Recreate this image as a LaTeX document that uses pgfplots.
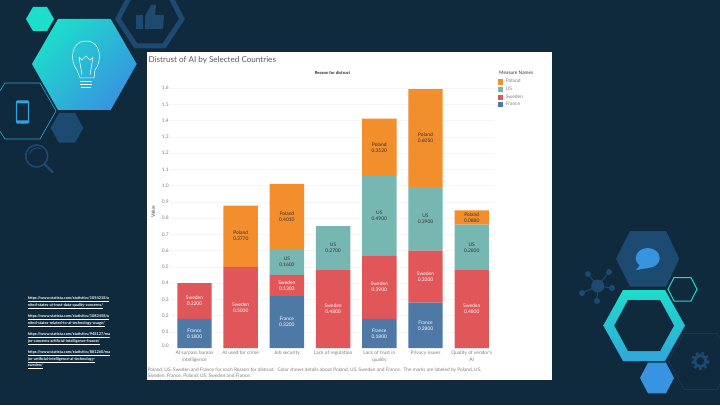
\documentclass[border=0pt]{standalone}
\usepackage{pgfplots}
\usepackage{pgfplotstable}
\usepackage{fontspec}
\setmainfont{Lato}
\pgfplotsset{compat=1.18}

\definecolor{bg}{HTML}{0F293D}
\definecolor{hexdark}{HTML}{1D4A70}
\definecolor{aqua}{HTML}{1DDDCB}
\definecolor{sky}{HTML}{3794E0}
\definecolor{polandc}{HTML}{F28E2B}
\definecolor{usc}{HTML}{76B7B2}
\definecolor{swedenc}{HTML}{E15759}
\definecolor{francec}{HTML}{4E79A7}
\definecolor{greytxt}{HTML}{7F7F7F}

\newcommand{\smallf}{\fontsize{4.9}{6}\selectfont}
\newcommand{\tickf}{\fontsize{4.9}{6.6}\selectfont}

\pgfplotstableread{
x France Sweden US   Poland
0 0.18   0.22   0    0
1 0      0.50   0    0.377
2 0.32   0.13   0.16 0.401
3 0      0.48   0.27 0
4 0.18   0.39   0.49 0.352
5 0.28   0.32   0.39 0.605
6 0      0.48   0.28 0.088
}\bars

\pgfplotsset{
  frame/.style={
    scale only axis, width=325pt, height=259.8pt,
    at={(170pt,57pt)}, anchor=south west,
    xmin=-0.53, xmax=6.504, ymin=0, ymax=1.6,
  },
  seglabel/.style={
    only marks, mark=none, point meta=explicit symbolic,
    text=#1, forget plot,
  },
}

\begin{document}
\begin{tikzpicture}
\useasboundingbox (0,0) rectangle (720pt,405pt);
\clip (0,0) rectangle (720pt,405pt);
\fill[bg] (0,0) rectangle (720pt,405pt);

% slide decoration, in pixel coordinates of the reference
\begin{scope}[x=1pt,y=-1pt,shift={(0pt,405pt)}]
  % left group
  \draw[hexdark,line width=5pt] (118,19)--(134,-12)--(166,-12)--(182,19)--(164,46)--(136,46)--cycle;
  \fill[hexdark] (136,15) rectangle (143,29);
  \fill[hexdark] (145,16)--(151,5)--(156,5)--(155,15)--(164,15)--(163,29)--(145,29)--cycle;
  \fill[aqua] (26,19)--(33,7)--(47,7)--(54,19)--(47,31)--(33,31)--cycle;
  \shade[top color=aqua,middle color=aqua!85!sky,bottom color=sky,shading angle=45] (32,64)--(58,19)--(110.7,19)--(136.7,64)--(110.7,110)--(58,110)--cycle;
  \draw[white,line width=.5pt] (77,70) .. controls (70,62) and (70,41) .. (86,41) .. controls (102,41) and (102,62) .. (95,70) -- (94,78) -- (80,78) -- cycle;
  \draw[white,line width=.5pt] (79,57)--(82,75) (93,57)--(90,75) (79,57)--(82,60)--(86,56)--(90,60)--(93,57);
  \draw[white,line width=.5pt] (80,81)--(92,81) (80,84)--(92,84) (81,87)--(91,87);
  \draw[sky!70!aqua,line width=.6pt] (-13,111)--(5,83)--(40,83)--(56,111)--(40,139)--(5,139)--cycle;
  \draw[sky!80!aqua,line width=1.3pt,rounded corners=1pt] (16.5,101) rectangle (28.5,123);
  \fill[sky!80!aqua] (16.5,101) rectangle (28.5,103.5) (16.5,120.5) rectangle (28.5,123);
  \fill[hexdark] (50.7,128)--(59,113)--(75,113)--(83.3,128)--(75,142.7)--(59,142.7)--cycle;
  \draw[hexdark,line width=1.6pt] (36.7,156) circle (11);
  \draw[hexdark,line width=1pt] (36.7,156) ++(-7,-2) arc (190:300:7.5);
  \draw[hexdark,line width=2.4pt,line cap=round] (44.5,164)--(52.5,172);
  % right group
  \fill[hexdark] (616,258.8)--(630,231)--(666,231)--(679.3,258.8)--(666,286.7)--(630,286.7)--cycle;
  \fill[sky] (647.7,258) ellipse (12 and 10);
  \fill[sky] (640,265)--(636,270)--(648,268)--cycle;
  \draw[hexdark,line width=1pt] (597.7,286)--(588,274) (597.7,286)--(609,272) (597.7,286)--(612,288) (597.7,286)--(582,293) (597.7,286)--(597,301);
  \fill[hexdark] (597.7,286) circle (6.5) (588,274) circle (3) (609,272) circle (3) (612,288) circle (3) (582,293) circle (3) (597,301) circle (3);
  \draw[aqua,line width=1pt] (668,289.2)--(674,277.5)--(691,277.5)--(697,289.2)--(691,301)--(674,301)--cycle;
  \shade[top color=aqua,bottom color=sky!75!aqua] (603.3,325.5)--(623,290)--(665,290)--(685,325.5)--(665,361)--(623,361)--cycle;
  \fill[bg] (614.3,325.5)--(628,300)--(660,300)--(674,325.5)--(660,351)--(628,351)--cycle;
  \fill[sky] (640,378)--(648,362.7)--(666,362.7)--(674,378)--(666,393.3)--(648,393.3)--cycle;
  \draw[hexdark!75!bg,line width=.4pt] (668.3,361)--(684,333.3)--(717,333.3)--(733,361)--(717,389.3)--(684,389.3)--cycle;
  \draw[hexdark,line width=3pt] (700.3,361) circle (5.6);
  \draw[hexdark,line width=2.4pt,dash pattern=on 2.6pt off 2.9pt] (700.3,361) circle (8);
  % sources
  \begin{scope}[every node/.style={anchor=west,inner sep=0pt,text=white,font=\bfseries\fontsize{3.85}{6}\selectfont}]
    \node at (27.7,299.5) {\underline{https://www.statista.com/statistics/1054218/u}};
    \node at (27.7,306) {\underline{nited-states-ai-trust-data-quality-concerns/}};
    \node at (27.7,317.5) {\underline{https://www.statista.com/statistics/1082458/u}};
    \node at (27.7,324) {\underline{nited-states-related-to-ai-technology-usage/}};
    \node at (27.7,335.5) {\underline{https://www.statista.com/statistics/948127/ma}};
    \node at (27.7,342) {\underline{jor-concerns-artificial-intelligence-france/}};
    \node at (27.7,353.5) {\underline{https://www.statista.com/statistics/881260/ma}};
    \node at (27.7,360) {\underline{jor-artificial-intelligence-ai-technology-}};
    \node at (27.7,366.5) {\underline{sweden/}};
  \end{scope}
  % worksheet panel
  \fill[white] (146.7,52) rectangle (552,380);
  \node[anchor=west,inner sep=0pt,text=black!65,font=\fontsize{8.1}{10}\selectfont] at (148.5,60) {Distrust of AI by Selected Countries};
  \node[inner sep=0pt,text=black!85,font=\bfseries\fontsize{4.2}{5}\selectfont] at (332.5,72.7) {Reason for distrust};
  \node[anchor=west,inner sep=0pt,text=black!80,font=\fontsize{4.8}{5}\selectfont] at (499,72.7) {Measure Names};
  \node[inner sep=0pt,rotate=90,text=black!75,font=\smallf] at (153,212) {Value};
  \node[anchor=west,inner sep=0pt,text=greytxt,font=\fontsize{4.83}{6}\selectfont] at (147.5,370) {Poland, US, Sweden and France for each Reason for distrust.\ \ Color shows details about Poland, US, Sweden and France.\ \ The marks are labeled by Poland, US,};
  \node[anchor=west,inner sep=0pt,text=greytxt,font=\fontsize{4.83}{6}\selectfont] at (147.5,376.5) {Sweden, France, Poland, US, Sweden and France.};
\end{scope}

\begin{axis}[
  frame,
  ybar stacked,
  bar width=34.4pt,
  axis line style={draw=none},
  major tick length=0pt,
  ymajorgrids,
  grid style={draw=black!4,line width=.4pt},
  ytick={0.1,0.2,0.3,0.4,0.5,0.6,0.7,0.8,0.9,1.0,1.1,1.2,1.3,1.4,1.5,1.6},
  extra y ticks={0},
  extra y tick labels={0.0},
  extra y tick style={ymajorgrids=false,yticklabel style={yshift=2.7pt}},
  yticklabel style={
    /pgf/number format/fixed,/pgf/number format/precision=1,/pgf/number format/fixed zerofill,
    /pgf/number format/assume math mode=true,
    font=\smallf,text=greytxt,inner sep=1pt,
  },
  xtick={0,1,2,3,4,5,6},
  xticklabels={{AI surpass human\\intelligence},{AI used for crime},{Job security},{Lack of regulation},{Lack of trust in\\quality},{Privacy issues},{Quality of vendor's\\AI}},
  xticklabel style={font=\tickf,text=greytxt,align=center,inner sep=1pt,yshift=-2pt},
  reverse legend,
  legend image code/.code={\fill[#1] (0pt,-2.6pt) rectangle (5.2pt,2.6pt);\path (7.6pt,0pt);},
  legend style={
    at={(axis description cs:1.0095,1.0365)},anchor=north west,
    draw=none,fill=none,inner sep=0pt,font=\smallf,text=greytxt,
    row sep=1.6pt,nodes={inner sep=0pt,anchor=west,minimum height=6pt},
  },
]
\addplot[fill=francec,draw=none] table[x=x,y=France] {\bars};
\addplot[fill=swedenc,draw=none] table[x=x,y=Sweden] {\bars};
\addplot[fill=usc,draw=none] table[x=x,y=US] {\bars};
\addplot[fill=polandc,draw=none] table[x=x,y=Poland] {\bars};
\legend{France,Sweden,US,Poland}
\end{axis}

% segment labels sit at the middle of each stacked part
\begin{axis}[
  frame,
  hide axis,
  clip=false,
  every node near coord/.append style={anchor=center,align=center,font=\smallf,inner sep=0pt},
]
\addplot[seglabel=white,nodes near coords={France\\\pgfplotspointmeta}] coordinates {
  (0,0.09) [0.1800] (2,0.16) [0.3200] (4,0.09) [0.1800] (5,0.14) [0.2800]};
\addplot[seglabel=white,nodes near coords={Sweden\\\pgfplotspointmeta}] coordinates {
  (0,0.29) [0.2200] (1,0.25) [0.5000] (2,0.385) [0.1300] (3,0.24) [0.4800]
  (4,0.375) [0.3900] (5,0.44) [0.3200] (6,0.24) [0.4800]};
\addplot[seglabel=black!80,nodes near coords={US\\\pgfplotspointmeta}] coordinates {
  (2,0.53) [0.1600] (3,0.615) [0.2700] (4,0.815) [0.4900] (5,0.795) [0.3900] (6,0.62) [0.2800]};
\addplot[seglabel=black!80,nodes near coords={Poland\\\pgfplotspointmeta}] coordinates {
  (1,0.6885) [0.3770] (2,0.8105) [0.4010] (4,1.236) [0.3520] (5,1.2925) [0.6050] (6,0.804) [0.0880]};
\end{axis}
\end{tikzpicture}
\end{document}
